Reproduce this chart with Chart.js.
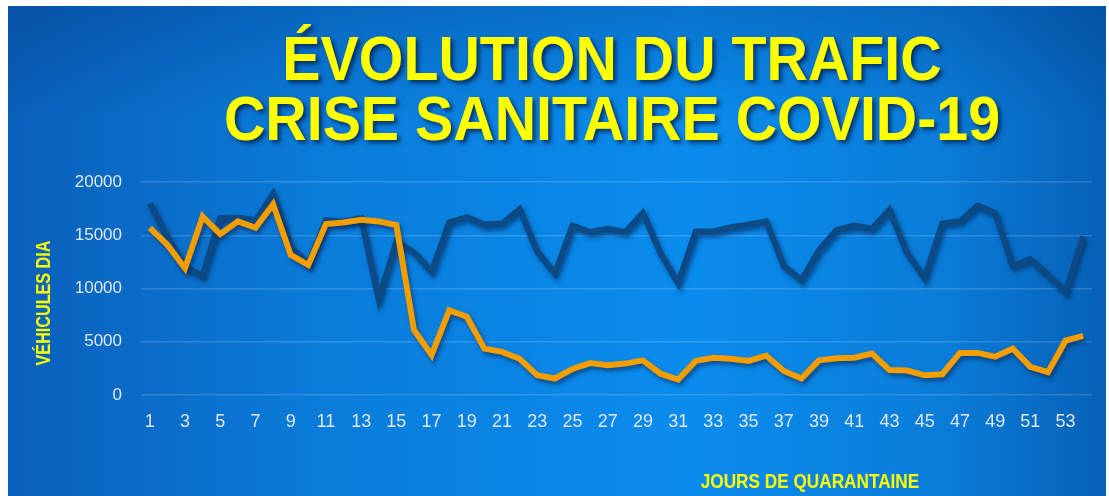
<!DOCTYPE html>
<html>
<head>
<meta charset="utf-8">
<script src="https://cdn.jsdelivr.net/npm/chart.js@4"></script>
<style>
  html, body { margin: 0; padding: 0; background: #fff; }
  #wrap { position: relative; width: 1109px; height: 496px; }
</style>
</head>
<body>
<div id="wrap"><canvas id="chart"></canvas></div>
<script>
// jours de quarantaine
const days = ['1','2','3','4','5','6','7','8','9','10','11','12','13','14','15','16','17','18',
  '19','20','21','22','23','24','25','26','27','28','29','30','31','32','33','34','35','36',
  '37','38','39','40','41','42','43','44','45','46','47','48','49','50','51','52','53','54']

// véhicules / jour - série foncée
const navyValues = [18000, 14800, 12000, 11200, 16600, 16650, 16400, 18900, 13900, 12300,
  16400, 16300, 16600, 9000, 14400, 13400, 11600, 16200, 16700, 16000,
  16100, 17450, 13450, 11400, 15900, 15300, 15600, 15300, 17100, 13300,
  10500, 15350, 15350, 15750, 16000, 16300, 12100, 10800, 13600, 15500,
  15900, 15600, 17400, 13300, 11000, 16100, 16300, 17800, 17100, 12100,
  12750, 11300, 9700, 14900]

// véhicules / jour - série orange
const orangeValues = [15700, 14100, 11900, 16750, 15100, 16300, 15700, 17900, 13150, 12200,
  16050, 16200, 16450, 16300, 15950, 6100, 3750, 7950, 7350, 4350,
  4050, 3400, 1850, 1550, 2450, 3000, 2800, 2950, 3250, 2000,
  1450, 3200, 3500, 3400, 3200, 3700, 2250, 1550, 3250, 3450,
  3500, 3900, 2350, 2300, 1850, 1950, 3950, 3950, 3600, 4350,
  2650, 2150, 5100, 5550]

const titleLines = ['ÉVOLUTION DU TRAFIC', 'CRISE SANITAIRE COVID-19']
const yTitle = 'VÉHICULES DIA'
const xTitle = 'JOURS DE QUARANTAINE'

const YELLOW = '#ffff00'
const FONT = '"Liberation Sans", Arial, sans-serif'

// texte compressé horizontalement (police étroite de l'original)
function squeezedText(ctx, text, x, y, sx) {
  ctx.save()
  ctx.translate(x, y)
  ctx.scale(sx, 1)
  ctx.fillText(text, 0, 0)
  ctx.restore()
}

// fond bleu dégradé + titres
const decor = {
  id: 'decor',
  beforeDraw(chart) {
    const ctx = chart.ctx
    const w = chart.width, h = chart.height
    ctx.save()
    ctx.fillStyle = '#ffffff'
    ctx.fillRect(0, 0, w, h)
    const g = ctx.createLinearGradient(8, 0, w, 0)
    g.addColorStop(0, '#0a60ba')
    g.addColorStop(0.3, '#0a7ddb')
    g.addColorStop(0.62, '#0a8cee')
    g.addColorStop(0.85, '#0a7cd8')
    g.addColorStop(1, '#0660b6')
    ctx.fillStyle = g
    ctx.fillRect(8, 6, w - 11, h - 6)
    const v = ctx.createLinearGradient(0, 6, 0, 120)
    v.addColorStop(0, 'rgba(0,40,110,0.25)')
    v.addColorStop(1, 'rgba(0,40,110,0)')
    ctx.fillStyle = v
    ctx.fillRect(8, 6, w - 11, 114)
    ctx.restore()
  },
  afterDraw(chart) {
    const ctx = chart.ctx
    ctx.save()
    ctx.fillStyle = YELLOW
    ctx.shadowColor = 'rgba(0,20,60,0.7)'
    ctx.shadowOffsetX = 3
    ctx.shadowOffsetY = 3
    ctx.shadowBlur = 4
    ctx.textAlign = 'center'
    ctx.textBaseline = 'alphabetic'
    ctx.font = 'bold 63px ' + FONT
    squeezedText(ctx, titleLines[0], 612, 80, 0.91)
    squeezedText(ctx, titleLines[1], 612, 140, 0.91)

    ctx.shadowColor = 'transparent'
    ctx.textBaseline = 'middle'
    ctx.font = 'bold 20px ' + FONT
    squeezedText(ctx, xTitle, 810, 482, 0.86)

    ctx.translate(44, 303)
    ctx.rotate(-Math.PI / 2)
    ctx.font = 'bold 21px ' + FONT
    squeezedText(ctx, yTitle, 0, 0, 0.77)
    ctx.restore()
  }
}

// ombre sous les courbes
const lineShadow = {
  id: 'lineShadow',
  beforeDatasetDraw(chart) {
    const ctx = chart.ctx
    ctx.save()
    ctx.shadowColor = 'rgba(0,25,70,0.55)'
    ctx.shadowOffsetX = 2
    ctx.shadowOffsetY = 3
    ctx.shadowBlur = 4
  },
  afterDatasetDraw(chart) {
    chart.ctx.restore()
  }
}

const ctx = document.getElementById('chart').getContext('2d')

new Chart(ctx, {
  type: 'line',
  data: {
    labels: days,
    datasets: [
      {
        label: 'Série 1',
        data: navyValues,
        borderColor: '#0c4a86',
        borderWidth: 6,
        pointRadius: 0,
        tension: 0,
        order: 1
      },
      {
        label: 'Série 2',
        data: orangeValues,
        borderColor: '#f29d00',
        borderWidth: 6,
        pointRadius: 0,
        tension: 0,
        order: 0
      }
    ]
  },
  options: {
    responsive: true,
    maintainAspectRatio: false,
    animation: false,
    layout: { padding: { top: 182, right: 17, left: 0, bottom: 0 } },
    plugins: {
      legend: { display: false },
      tooltip: { enabled: false },
      title: { display: false }
    },
    scales: {
      x: {
        offset: true,
        grid: { display: false, drawTicks: false },
        border: { display: false },
        ticks: {
          autoSkip: false,
          maxRotation: 0,
          padding: 16,
          color: '#dfe7f0',
          font: { family: FONT, size: 18 },
          callback: (val, i) => (i % 2 === 0 ? days[i] : '')
        },
        afterFit(scale) { scale.height = 101 }
      },
      y: {
        min: 0,
        max: 20000,
        grid: { color: 'rgba(255,255,255,0.16)', lineWidth: 1.5, drawTicks: false },
        border: { display: false },
        ticks: {
          stepSize: 5000,
          padding: 19,
          color: '#dfe7f0',
          font: { family: FONT, size: 17 },
          callback: (val) => String(val)
        },
        afterFit(scale) { scale.width = 141 }
      }
    }
  },
  plugins: [decor, lineShadow]
})
</script>
</body>
</html>
